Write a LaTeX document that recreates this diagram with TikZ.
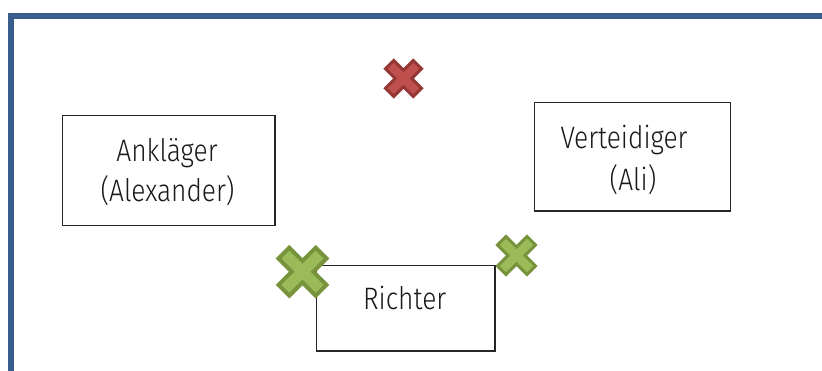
\documentclass[tikz,border=0pt]{standalone}
\usepackage{fontspec}
\setmainfont{Fira Sans}[UprightFont={* Light},FakeStretch=0.85]
\begin{document}
\definecolor{frameblue}{RGB}{56,93,138}
\definecolor{redfill}{RGB}{192,80,77}
\definecolor{redline}{RGB}{149,55,53}
\definecolor{greenfill}{RGB}{155,187,89}
\definecolor{greenline}{RGB}{119,147,60}
\begin{tikzpicture}[x=1pt,y=-1pt,
  rolebox/.style={draw=black!85,line width=1.3pt,fill=white,inner sep=0pt,outer sep=0pt},
  label/.style={anchor=base,inner sep=0pt,font=\fontsize{31}{37}\selectfont,text=black!90},
  crossmark/.pic={
    \path[pic actions,line join=miter]
      (0.16,0.16) -- (0.16,0.547) -- (-0.16,0.547) -- (-0.16,0.16)
      -- (-0.547,0.16) -- (-0.547,-0.16) -- (-0.16,-0.16) -- (-0.16,-0.547)
      -- (0.16,-0.547) -- (0.16,-0.16) -- (0.547,-0.16) -- (0.547,0.16) -- cycle;
  }]
\useasboundingbox (0,0) rectangle (822,370);

% frame along the top and left edge
\coordinate (frameBL) at (11,372);
\coordinate (frameTL) at (11,16);
\coordinate (frameTR) at (824,16);
\draw[frameblue,line width=5.5pt,line join=miter] (frameBL) -- (frameTL) -- (frameTR);

% role boxes
\node[rolebox,minimum width=212.7pt,minimum height=110pt] (ankbox) at (168.7,170.7) {};
\node[rolebox,minimum width=196.4pt,minimum height=108.3pt] (verbox) at (632.5,156.9) {};
\node[rolebox,minimum width=178.3pt,minimum height=85.3pt] (ricbox) at (405.9,308.4) {};

% labels
\node[label] (ank1) at (167,161.7) {Ankläger};
\node[label] (ank2) at (167.5,201.7) {(Alexander)};
\node[label] (ver1) at (624,148.3) {Verteidiger};
\node[label] (ver2) at (633,190) {(Ali)};
\node[label] (ric) at (404.7,309.3) {Richter};

% crosses
\pic[fill=redfill,draw=redline,line width=3pt,scale=36,rotate=45] (redx) at (403.5,78.5) {crossmark};
\pic[fill=greenfill,draw=greenline,line width=4pt,scale=48,rotate=45] (bigx) at (302.5,271.7) {crossmark};
\pic[fill=greenfill,draw=greenline,line width=3pt,scale=38,rotate=45] (smallx) at (516.5,255.5) {crossmark};
\end{tikzpicture}
\end{document}
